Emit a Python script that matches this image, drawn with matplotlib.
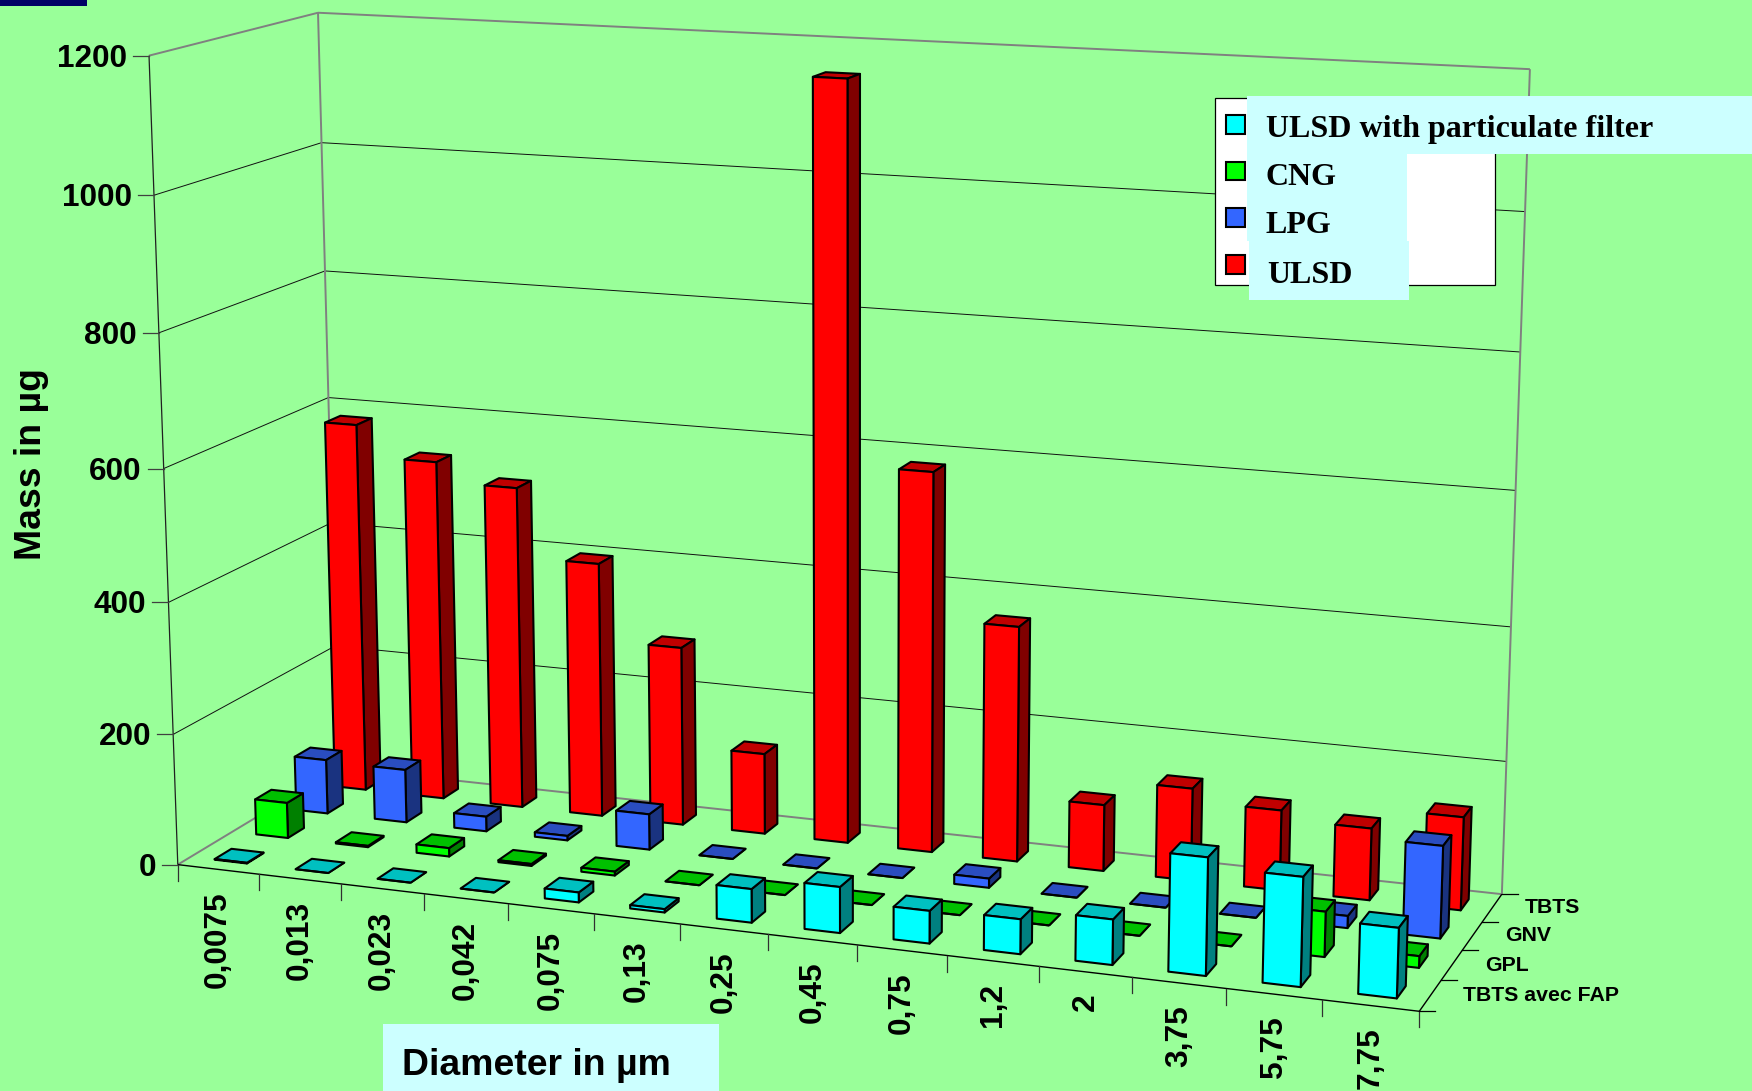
"""
Particle mass per size class for four fuels, drawn as a 3D bar chart.
"""

import matplotlib

matplotlib.use("Agg")

import matplotlib.pyplot as plt
import numpy as np
from matplotlib.lines import Line2D
from matplotlib.patches import Rectangle
from matplotlib.transforms import IdentityTransform
from mpl_toolkits.mplot3d import proj3d
from mpl_toolkits.mplot3d.art3d import Line3DCollection, Poly3DCollection

WIDTH, HEIGHT = 1752, 1091

DIAMETERS = ["0,0075", "0,013", "0,023", "0,042", "0,075", "0,13", "0,25",
             "0,45", "0,75", "1,2", "2", "3,75", "5,75", "7,75"]
ROW_LABELS = ["TBTS avec FAP", "GPL", "GNV", "TBTS"]
LEGEND_LABELS = ["ULSD with particulate filter", "CNG", "LPG", "ULSD"]
MASS_TICKS = [0, 200, 400, 600, 800, 1000, 1200]

ULSD_FAP = [1, 0, 0, 0, 15, 5, 50, 68, 48, 51, 66, 170, 157, 100]
CNG = [55, 2, 13, 3, 6, 0, 0, 0, 0, 0, 0, 0, 66, 17]
LPG = [85, 83, 23, 7, 55, 0, 0, 0, 14, 0, 0, 0, 18, 136]
ULSD = [582, 534, 504, 397, 278, 125, 1153, 581, 359, 101, 140, 121, 108, 139]

BACKGROUND = "#99FF99"
BOX_BLUE = "#CCFFFF"
# front, side and top face of each series
CYAN_FACES = ("#00FFFF", "#008080", "#00C0C0")
GREEN_FACES = ("#00FF00", "#008000", "#00C000")
BLUE_FACES = ("#3366FF", "#1A3380", "#2A4DC0")
RED_FACES = ("#FF0000", "#800000", "#C00000")

BAR_LOW, BAR_HIGH = 0.3, 0.7

# Known positions of the chart box on the canvas: (category, row, mass) -> (px, py).
CALIBRATION = [
    ((0, 0, 0), (177.7, 865)), ((14, 0, 0), (1418.9, 1010.7)),
    ((14, 4, 0), (1500.5, 894.3)), ((0, 4, 0), (339, 768)),
    ((0, 0, 1200), (149, 56.7)), ((14, 4, 1200), (1530, 69)),
    ((0, 4, 1200), (318.3, 12)), ((0, 4, 1000), (321, 142.7)),
    ((0, 4, 800), (325, 271.3)), ((0, 0, 1000), (154, 195)),
    ((0, 0, 800), (159, 333)), ((0, 0, 600), (164, 469)),
    ((0, 0, 400), (168, 601)), ((0, 0, 200), (173, 734)),
    ((3, 0, 0), (423.3, 893.8)), ((7, 0, 0), (768.2, 934.3)),
    ((11, 0, 0), (1132.6, 977.8)), ((14, 1, 0), (1440.9, 980)),
    ((14, 2, 0), (1463.3, 951)), ((14, 3, 0), (1482.9, 921.7)),
]


def fit_homography(pairs: list) -> np.ndarray:
    """
    Solve the 3x4 projective matrix mapping chart coordinates to canvas pixels.
    """
    rows = []
    for (x, y, z), (px, py) in pairs:
        fy = HEIGHT - py
        rows.append([x, y, z, 1, 0, 0, 0, 0, -px * x, -px * y, -px * z, -px])
        rows.append([0, 0, 0, 0, x, y, z, 1, -fy * x, -fy * y, -fy * z, -fy])
    rows = np.array(rows, dtype=float)
    # Normalise the columns so mass (up to 1200) does not dominate the fit.
    scale = np.array([14, 4, 1200, 1] * 3, dtype=float)
    _, _, vt = np.linalg.svd(rows * scale)
    return (vt[-1] * scale).reshape(3, 4)


fig = plt.figure(figsize=(WIDTH / 100, HEIGHT / 100), dpi=100, facecolor=BACKGROUND)
ax = fig.add_axes([0, 0, 1, 1], projection="3d")
ax.apply_aspect = lambda position=None: None
ax.set_axis_off()
ax.patch.set_alpha(0)
ax.computed_zorder = False

# Replace the default camera with one fitted to the chart box.
H = np.linalg.inv(ax.transData.get_affine().get_matrix()) @ fit_homography(CALIBRATION)
M = np.vstack([H[0], H[1], H[2] + np.array([0, 1e-3, 0, 0]) * np.abs(H[2]).max(), H[2]])
ax.get_proj = lambda: M
ax.M = M


def to_view(x: float, y: float, z: float) -> tuple:
    vx, vy, _ = proj3d.proj_transform(x, y, z, M)
    return float(vx), float(vy)


def to_display(x: float, y: float, z: float) -> np.ndarray:
    return ax.transData.transform(to_view(x, y, z))


def tick(x: float, y: float, z: float, dx: float, dy: float, color: str = "black") -> None:
    px, py = to_display(x, y, z)
    fig.add_artist(Line2D([px, px + dx], [py, py + dy], color=color, lw=0.9,
                          transform=IdentityTransform()))


def add_lines(segments: list, color: str, lw: float, order: int) -> None:
    lines = Line3DCollection(segments, colors=color, linewidths=lw)
    lines.set_zorder(order)
    ax.add_collection3d(lines, autolim=False)


def add_bar(i: int, row: int, value: float, faces: tuple, order: int) -> None:
    x0, x1 = i + BAR_LOW, i + BAR_HIGH
    y0, y1 = row + BAR_LOW, row + BAR_HIGH
    front = [(x0, y0, 0), (x1, y0, 0), (x1, y0, value), (x0, y0, value)]
    side = [(x1, y0, 0), (x1, y1, 0), (x1, y1, value), (x1, y0, value)]
    top = [(x0, y0, value), (x1, y0, value), (x1, y1, value), (x0, y1, value)]
    bar = Poly3DCollection([front, side, top], facecolors=list(faces),
                           edgecolors="black", linewidths=1.5)
    bar.set_zorder(order)
    ax.add_collection3d(bar, autolim=False)


# Walls and floor outline
add_lines([[(0, 0, m), (0, 4, m)] for m in MASS_TICKS[1:-1]]
          + [[(0, 4, m), (14, 4, m)] for m in MASS_TICKS[1:-1]], "#101010", 0.7, 1)
add_lines([[(0, 4, 0), (14, 4, 0)], [(0, 4, 0), (0, 0, 0)],
           [(0, 4, 0), (0, 4, 1200)], [(14, 4, 0), (14, 4, 1200)],
           [(0, 0, 1200), (0, 4, 1200)], [(0, 4, 1200), (14, 4, 1200)]], "#808080", 1.4, 2)
add_lines([[(0, 0, 0), (0, 0, 1200)]], "#202020", 0.9, 3)
add_lines([[(0, 0, 0), (14, 0, 0)], [(14, 0, 0), (14, 4, 0)]], "black", 1.0, 3)

# Rows are drawn back to front so nearer bars cover farther ones.
order = 10
for row, values, faces in [(3, ULSD, RED_FACES), (2, LPG, BLUE_FACES),
                           (1, CNG, GREEN_FACES), (0, ULSD_FAP, CYAN_FACES)]:
    for i, value in enumerate(values):
        add_bar(i, row, value, faces, order)
        order += 1

# Axis ticks and labels
for mass in MASS_TICKS:
    tick(0, 0, mass, -16, 0, "#404040")
    ax.annotate(str(mass), xy=to_view(0, 0, mass), xytext=(-22, -3), textcoords="offset pixels",
                ha="right", va="center", fontsize=22.7, fontweight="bold",
                family="Liberation Sans")
for i in range(len(DIAMETERS) + 1):
    tick(i, 0, 0, 0, -16, "#303030")
for i, label in enumerate(DIAMETERS):
    ax.annotate(label, xy=to_view(i + 0.5, 0, 0), xytext=(0, -22), textcoords="offset pixels",
                ha="center", va="top", rotation=90, fontsize=22.8, fontweight="bold",
                family="Liberation Sans")
for row in range(len(ROW_LABELS) + 1):
    tick(14, row, 0, 16, 0)
for row, label in enumerate(ROW_LABELS):
    ax.annotate(label, xy=to_view(14, row + 0.5, 0), xytext=(33, 0), textcoords="offset pixels",
                ha="left", va="center", fontsize=15.3, fontweight="bold",
                family="Liberation Sans")


def px_rect(x0: float, y0: float, x1: float, y1: float, **kwargs) -> None:
    fig.add_artist(Rectangle((x0 / WIDTH, 1 - y1 / HEIGHT), (x1 - x0) / WIDTH, (y1 - y0) / HEIGHT,
                             transform=fig.transFigure, **kwargs))


# Corner tab
px_rect(0, 0, 87, 6, facecolor="#000066", edgecolor="none", zorder=5)

# Legend panel with its label boxes on top
px_rect(1214.7, 98, 1494.8, 285, facecolor="white", edgecolor="black", lw=0.9, zorder=5)
px_rect(1247, 96, 1752, 153.7, facecolor=BOX_BLUE, edgecolor="none", zorder=6)
px_rect(1247, 153.7, 1407, 241, facecolor=BOX_BLUE, edgecolor="none", zorder=6)
px_rect(1249, 241, 1409, 300, facecolor=BOX_BLUE, edgecolor="none", zorder=6)
swatch_tops = [115, 161.7, 208, 255]
text_spots = [(1266.5, 136.7), (1265.5, 185), (1265.5, 232.7), (1267, 282.7)]
for label, faces, top, (tx, ty) in zip(LEGEND_LABELS, [CYAN_FACES, GREEN_FACES, BLUE_FACES, RED_FACES],
                                       swatch_tops, text_spots):
    px_rect(1225.6, top, 1244.6, top + 18.7, facecolor=faces[0], edgecolor="black", lw=1.5, zorder=6)
    fig.text(tx / WIDTH, 1 - ty / HEIGHT, label, ha="left", va="baseline", fontsize=23,
             fontweight="bold", family="Liberation Serif", zorder=7)

# Axis titles
fig.text(32 / WIDTH, 1 - 464 / HEIGHT, "Mass in µg", rotation=90, ha="center", va="center",
         fontsize=26.9, fontweight="bold", family="Liberation Sans", zorder=7)
px_rect(383, 1024, 719, 1091, facecolor=BOX_BLUE, edgecolor="none", zorder=6)
fig.text(402 / WIDTH, 1 - 1075 / HEIGHT, "Diameter in µm", ha="left", va="baseline",
         fontsize=26.9, fontweight="bold", family="Liberation Sans", zorder=7)

fig.savefig("out.png", dpi=100, facecolor=BACKGROUND)
